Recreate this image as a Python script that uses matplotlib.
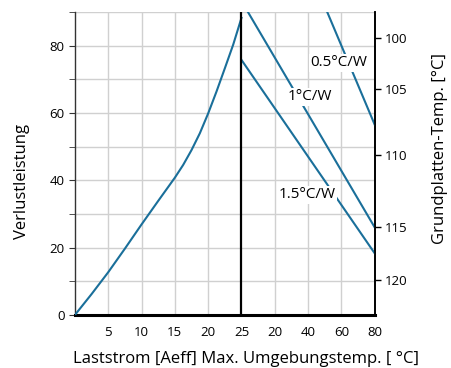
import numpy as np
import matplotlib
matplotlib.use("Agg")
import matplotlib.pyplot as plt

plt.rcParams['font.family'] = ['Open Sans', 'DejaVu Sans']

# loss curve (left part): load current [A] vs power loss [W]
current = [0, 2.5, 5, 7.5, 10, 12.5, 15, 16.25, 17.5, 18.75, 20, 21.25, 22.5, 23.75, 25]
loss = [0, 6.2, 12.7, 19.7, 26.9, 33.9, 40.8, 44.6, 49, 54, 59.9, 66.4, 73.3, 80.3, 88.3]

# x tick labels (current, then ambient temperature)
x_labels = ['5', '10', '15', '20', '25', '20', '40', '60', '80']

# thermal resistance lines: loss value at Ta=25 and at Ta=80
rth_names = ['0.5°C/W', '1°C/W', '1.5°C/W']
rth_at_25 = [150.5, 93.3, 75.8]
rth_at_80 = [56.5, 26.0, 18.3]

# right axis (base plate temperature) tick labels and where they sit
temp_labels = ['100', '105', '110', '115', '120']
temp_pos = [82.2, 67.1, 47.6, 26.2, 10.4]

color = '#1a6f9a'

fig = plt.figure(figsize=(4.51, 3.68), dpi=100)
ax = fig.add_axes([0.166, 0.144, 0.665, 0.823])

x_pos = np.arange(1, len(x_labels) + 1)
ax.set_xlim(0, len(x_labels))
ax.set_ylim(0, 90)

# grid
for xp in x_pos:
    if x_labels[xp - 1] not in ('25', '80'):
        ax.axvline(xp, color='#d0d0d0', lw=1, zorder=0)
for yv in range(10, 91, 10):
    ax.axhline(yv, color='#d0d0d0', lw=1, zorder=0)

# loss curve, current mapped onto the first five tick positions
i25 = x_labels.index('25') + 1
i80 = len(x_labels) - x_labels[::-1].index('80')
cx = np.array(current) / 25 * i25
ax.plot(cx, loss, color=color, lw=1.5, zorder=3)

for name, a, b in zip(rth_names, rth_at_25, rth_at_80):
    ax.plot([i25, i80], [a, b], color=color, lw=1.5, zorder=3)

# separator line
ax.axvline(i25, color='black', lw=1.6, zorder=4)

# labels on the lines
label_xy = [(7.93, 74.9), (7.06, 64.8), (6.97, 35.7)]
for name, (lx, ly) in zip(rth_names, label_xy):
    ax.text(lx, ly, name, ha='center', va='center', fontsize=11,
            bbox=dict(boxstyle='square,pad=0.1', fc='white', ec='none'),
            zorder=5)

ax.set_xticks(x_pos)
ax.set_xticklabels(x_labels, fontsize=9.5)
ax.tick_params(axis='x', length=0, pad=8)
ax.set_yticks(range(0, 81, 20))
ax.set_yticks(range(10, 91, 20), minor=True)
ax.tick_params(axis='y', labelsize=9.5, length=4, color='#333333')
ax.tick_params(axis='y', which='minor', length=4, color='#333333')

ax.spines['top'].set_visible(False)
ax.spines['bottom'].set_linewidth(2.2)
ax.spines['left'].set_color('#333333')
ax.spines['left'].set_linewidth(1)
ax.spines['right'].set_linewidth(1.2)

ax.set_ylabel('Verlustleistung', fontsize=12)
ax.yaxis.set_label_coords(-0.15, 0.44)
ax.set_xlabel('Laststrom [Aeff] Max. Umgebungstemp. [ °C]', fontsize=12)
ax.xaxis.set_label_coords(0.57, -0.12)

ax2 = ax.twinx()
ax2.set_ylim(0, 90)
ax2.set_yticks(temp_pos)
ax2.set_yticklabels(temp_labels, fontsize=9.5)
ax2.tick_params(axis='y', length=4, width=1)
for s in ('top', 'left', 'bottom'):
    ax2.spines[s].set_visible(False)
ax2.spines['right'].set_linewidth(1.2)
ax2.set_ylabel('Grundplatten-Temp. [°C]', fontsize=12)
ax2.yaxis.set_label_coords(1.19, 0.55)

fig.savefig('out.png', dpi=100)
